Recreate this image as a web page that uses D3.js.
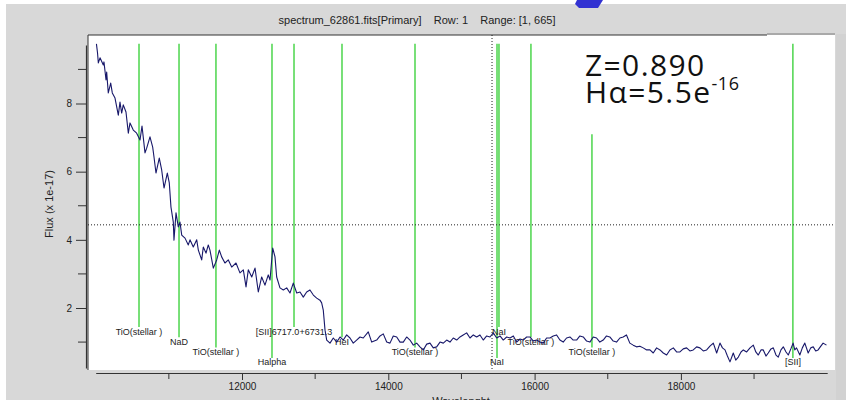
<!DOCTYPE html>
<html>
<head>
<meta charset="utf-8">
<script src="https://cdn.jsdelivr.net/npm/d3@7"></script>
<style>
  body { margin: 0; background: #ffffff; }
  svg { display: block; }
</style>
</head>
<body>
<script>
// Spectrum samples: wavelength (Angstrom) and flux (x 1e-17)
const wavelength = [
  10010, 10025, 10036, 10059, 10104, 10113, 10141, 10150, 10172, 10205,
  10227, 10264, 10309, 10332, 10355, 10377, 10414, 10446, 10469, 10514,
  10560, 10606, 10633, 10674, 10697, 10742, 10779, 10797, 10824, 10869,
  10902, 10934, 10979, 11006, 11029, 11061, 11070, 11098, 11129, 11152,
  11176, 11221, 11266, 11289, 11334, 11381, 11403, 11449, 11471, 11508,
  11539, 11562, 11608, 11654, 11690, 11722, 11767, 11813, 11859, 11918,
  11972, 12018, 12055, 12086, 12133, 12178, 12223, 12269, 12314, 12359,
  12383, 12420, 12451, 12474, 12519, 12565, 12611, 12656, 12701, 12748,
  12793, 12838, 12884, 12929, 12975, 13021, 13066, 13089, 13111, 13135,
  13158, 13203, 13248, 13295, 13340, 13385, 13431, 13476, 13521, 13567,
  13613, 13658, 13726, 13773, 13841, 13887, 13931, 13978, 14023, 14068,
  14115, 14160, 14205, 14251, 14296, 14342, 14388, 14433, 14478, 14525,
  14570, 14615, 14661, 14707, 14752, 14798, 14843, 14888, 14935, 14980,
  15024, 15071, 15117, 15162, 15208, 15253, 15298, 15345, 15390, 15435,
  15482, 15527, 15572, 15618, 15664, 15709, 15755, 15800, 15845, 15891,
  15936, 15982, 16028, 16073, 16118, 16164, 16210, 16255, 16301, 16346,
  16391, 16437, 16483, 16528, 16574, 16619, 16665, 16711, 16756, 16802,
  16847, 16892, 16938, 16983, 17028, 17075, 17120, 17166, 17211, 17256,
  17302, 17348, 17393, 17439, 17485, 17532, 17577, 17622, 17668, 17714,
  17759, 17805, 17850, 17896, 17941, 17987, 18032, 18078, 18123, 18169,
  18215, 18260, 18306, 18352, 18397, 18443, 18489, 18534, 18568, 18603,
  18636, 18671, 18716, 18750, 18785, 18822, 18853, 18899, 18945, 18990,
  19024, 19058, 19095, 19126, 19163, 19194, 19231, 19263, 19300, 19331,
  19368, 19400, 19437, 19468, 19503, 19534, 19557, 19581, 19626, 19660,
  19694, 19740, 19775, 19809, 19843, 19876, 19913, 19944, 19990
];
const flux = [
  9.75, 9.48, 9.19, 9.34, 9.13, 9.22, 8.69, 8.92, 8.31, 8.60,
  8.31, 8.16, 7.66, 8.04, 7.72, 7.96, 7.75, 7.13, 7.43, 7.22,
  7.13, 6.93, 7.34, 6.55, 6.69, 7.02, 6.72, 6.43, 5.96, 6.40,
  6.05, 5.52, 5.96, 5.67, 4.96, 4.52, 3.99, 4.79, 4.38, 4.52,
  4.14, 4.05, 3.85, 4.00, 3.79, 4.00, 3.70, 3.41, 3.79, 3.61,
  3.85, 3.70, 3.17, 3.41, 3.70, 3.50, 3.32, 3.41, 3.20, 3.32,
  3.03, 3.12, 2.62, 3.12, 2.91, 3.17, 2.47, 2.91, 2.67, 2.97,
  2.82, 3.76, 3.50, 2.91, 2.59, 2.53, 2.59, 2.44, 2.73, 2.44,
  2.47, 2.32, 2.47, 2.53, 2.38, 2.29, 2.23, 2.15, 1.94, 1.35,
  1.06, 0.97, 1.12, 1.00, 1.15, 1.06, 1.21, 1.12, 0.97, 1.06,
  1.15, 1.12, 1.30, 1.00, 1.06, 1.18, 1.24, 1.00, 0.97, 1.18,
  1.15, 1.00, 1.00, 1.15, 1.06, 0.91, 0.97, 0.86, 0.77, 0.94,
  0.97, 0.83, 0.86, 1.00, 0.97, 1.06, 1.00, 1.12, 1.06, 1.15,
  1.21, 1.27, 1.12, 1.21, 1.15, 1.21, 1.06, 1.18, 1.15, 1.27,
  1.12, 1.18, 1.06, 1.15, 1.12, 1.18, 1.00, 1.09, 1.06, 1.15,
  1.15, 1.03, 1.06, 1.00, 0.97, 1.12, 1.12, 1.18, 1.21, 1.06,
  1.00, 1.12, 1.15, 1.06, 1.06, 1.18, 1.15, 1.03, 1.00, 1.15,
  1.12, 1.00, 1.06, 1.18, 1.15, 1.03, 1.00, 1.12, 1.15, 1.21,
  0.97, 0.91, 0.86, 0.88, 0.83, 0.77, 0.77, 0.68, 0.83, 0.77,
  0.68, 0.62, 0.77, 0.83, 0.71, 0.71, 0.80, 0.83, 0.74, 0.77,
  0.86, 0.83, 0.74, 0.77, 0.88, 0.97, 0.68, 0.97, 0.83, 0.77,
  0.59, 0.42, 0.68, 0.47, 0.56, 0.71, 0.77, 0.71, 0.83, 0.91,
  0.71, 0.62, 0.77, 0.77, 0.59, 0.68, 0.80, 0.83, 0.62, 0.56,
  0.77, 0.86, 0.71, 0.62, 0.80, 0.97, 0.77, 0.83, 0.62, 0.83,
  0.97, 0.68, 0.83, 0.86, 0.74, 0.77, 0.88, 0.97, 0.91
];

// Identified lines (observed wavelength) and their labels
const lineWavelength = [10592, 11139, 11644, 12410, 12711, 13367, 14365, 15486, 15513, 15950, 16784, 19531];
const lineName = ["TiO(stellar )", "NaD", "TiO(stellar )", "Halpha", "[SII]6717.0+6731.3", "HeI",
                  "TiO(stellar )", "NaI", "NaI", "TiO(stellar )", "TiO(stellar )", "[SII]"];
const lineTopFlux = [9.75, 9.75, 9.75, 9.75, 9.75, 9.75, 9.75, 9.75, 9.75, 9.75, 7.1, 9.75];

// Axis extents and ticks
const waveExtent = [10000, 20000];
const fluxExtent = [0.24, 9.72];
const xMajorTicks = [12000, 14000, 16000, 18000];
const xMinorTicks = [11000, 13000, 15000, 17000, 19000];
const yMajorTicks = [2, 4, 6, 8];
const yMinorTicks = [1, 3, 5, 7, 9];

// Cursor crosshair
const cursorWavelength = 15418;
const cursorFlux = 4.44;

const titleText = "spectrum_62861.fits[Primary]    Row: 1    Range: [1, 665]";
const zText = "Z=0.890";
const haText = "H\u03B1=5.5e";
const haExp = "-16";

const W = 846, H = 400;
const font = "'Liberation Sans Narrow', 'Liberation Sans', Arial, sans-serif";

const svg = d3.select("body").append("svg")
  .attr("width", W).attr("height", H);

// window panel
svg.append("rect").attr("x", 6).attr("y", 4).attr("width", W - 6).attr("height", H - 4)
  .attr("fill", "#d8d8d8");
svg.append("rect").attr("x", 836).attr("y", 34).attr("width", 10).attr("height", H - 34)
  .attr("fill", "#d2d2d2");

// accent shape at the top edge
svg.append("polygon")
  .attr("points", "577,0 603,0 598,8 579,8 575,4")
  .attr("fill", "#3232d2");

// title
svg.append("text")
  .attr("x", 417).attr("y", 24)
  .attr("text-anchor", "middle")
  .attr("font-family", font).attr("font-size", 11)
  .attr("fill", "#222")
  .attr("xml:space", "preserve")
  .text(titleText);

const x = d3.scaleLinear().domain(waveExtent).range([95.7, 827.2]);
const y = d3.scaleLinear().domain([2, 8]).range([308, 103.5]);

// plot frame
const frame = { left: 88, top: 35, right: 835, bottom: 370 };
svg.append("rect")
  .attr("x", frame.left).attr("y", frame.top)
  .attr("width", frame.right - frame.left).attr("height", frame.bottom - frame.top)
  .attr("fill", "#ffffff");
svg.append("line").attr("x1", frame.left).attr("x2", 767).attr("y1", frame.top).attr("y2", frame.top)
  .attr("stroke", "#333").attr("stroke-width", 1.2);
svg.append("line").attr("x1", 767).attr("x2", frame.right).attr("y1", frame.top - 1).attr("y2", frame.top - 1)
  .attr("stroke", "#9a9a9a").attr("stroke-width", 1.5);
svg.append("line").attr("x1", frame.left).attr("x2", frame.left).attr("y1", frame.top).attr("y2", frame.bottom)
  .attr("stroke", "#333").attr("stroke-width", 1);

// x axis
const xAxisG = svg.append("g").attr("transform", "translate(0,373)");
xAxisG.call(d3.axisBottom(x).tickValues(xMajorTicks).tickSize(7).tickSizeOuter(0).tickFormat(d3.format("d")));
xAxisG.selectAll(".minor").data(xMinorTicks).enter().append("line")
  .attr("class", "minor")
  .attr("x1", d => x(d)).attr("x2", d => x(d))
  .attr("y1", 0).attr("y2", 6)
  .attr("stroke", "#333");
xAxisG.select(".domain").attr("stroke", "#333").attr("stroke-width", 1.2);
xAxisG.selectAll(".tick line").attr("stroke", "#333");
xAxisG.selectAll(".tick text")
  .attr("font-family", font).attr("font-size", 10).attr("fill", "#222");

// y axis
const yAxisScale = y.copy().domain(fluxExtent).range([y(fluxExtent[0]), y(fluxExtent[1])]);
const yAxisG = svg.append("g").attr("transform", "translate(86,0)");
yAxisG.call(d3.axisLeft(yAxisScale).tickValues(yMajorTicks).tickSize(10).tickSizeOuter(0).tickPadding(4));
yAxisG.selectAll(".minor").data(yMinorTicks).enter().append("line")
  .attr("class", "minor")
  .attr("x1", -8).attr("x2", 0)
  .attr("y1", d => y(d)).attr("y2", d => y(d))
  .attr("stroke", "#333");
yAxisG.select(".domain").attr("stroke", "#333").attr("stroke-width", 1.2);
yAxisG.selectAll(".tick line").attr("stroke", "#333");
yAxisG.selectAll(".tick text")
  .attr("font-family", font).attr("font-size", 10).attr("fill", "#222");

// axis titles
svg.append("text")
  .attr("transform", "translate(53,204) rotate(-90)")
  .attr("text-anchor", "middle")
  .attr("font-family", font).attr("font-size", 11).attr("fill", "#222")
  .text("Flux (x 1e-17)");
svg.append("text")
  .attr("x", 461).attr("y", 405)
  .attr("text-anchor", "middle")
  .attr("font-family", font).attr("font-size", 11).attr("fill", "#222")
  .text("Wavelenght");

// identified line markers, labels staggered over four rows
const rowY = i => 331 + (i % 4) * 10.3;
const lines = lineWavelength.map((w, i) => ({ w, name: lineName[i], top: lineTopFlux[i], row: rowY(i) }));
svg.append("g").selectAll("line").data(lines).enter().append("line")
  .attr("x1", d => x(d.w)).attr("x2", d => x(d.w))
  .attr("y1", d => y(d.top)).attr("y2", d => d.row - 4)
  .attr("stroke", "#3fd23f").attr("stroke-width", 1.4);
svg.append("g").selectAll("text").data(lines).enter().append("text")
  .attr("x", d => x(d.w)).attr("y", d => d.row + 3.5)
  .attr("text-anchor", "middle")
  .attr("font-family", font).attr("font-size", 9).attr("fill", "#222")
  .text(d => d.name);

// cursor crosshair
svg.append("line")
  .attr("x1", x(cursorWavelength)).attr("x2", x(cursorWavelength))
  .attr("y1", frame.top).attr("y2", 369)
  .attr("stroke", "#222").attr("stroke-width", 1).attr("stroke-dasharray", "1,2");
svg.append("line")
  .attr("x1", frame.left).attr("x2", frame.right)
  .attr("y1", y(cursorFlux)).attr("y2", y(cursorFlux))
  .attr("stroke", "#222").attr("stroke-width", 1).attr("stroke-dasharray", "1,2");

// spectrum
const spec = wavelength.map((w, i) => [w, flux[i]]);
svg.append("path")
  .datum(spec)
  .attr("fill", "none")
  .attr("stroke", "#18186a").attr("stroke-width", 1.1)
  .attr("stroke-linejoin", "round")
  .attr("d", d3.line().x(d => x(d[0])).y(d => y(d[1])));

// redshift / H-alpha flux annotation
const ann = svg.append("g")
  .attr("font-family", "'Open Sans', 'Noto Sans', sans-serif")
  .attr("fill", "#111")
  .attr("letter-spacing", 1.4);
ann.append("text").attr("x", 585).attr("y", 76).attr("font-size", 30).text(zText);
const ha = ann.append("text").attr("x", 585).attr("y", 103).attr("font-size", 30);
ha.append("tspan").text(haText);
ha.append("tspan").attr("font-size", 18).attr("dy", -13).attr("letter-spacing", 0.6).text(haExp);
</script>
</body>
</html>
